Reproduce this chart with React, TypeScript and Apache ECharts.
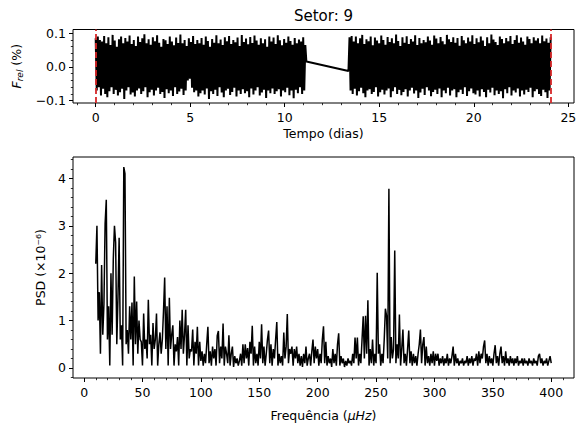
import React, { useEffect, useRef } from "react";
import * as echarts from "echarts";

// ---------- data ----------
const sectorTitle = "Setor: 9";
const cadenceDays = 0.056;
const segment1Start = 0;
const segment2Start = 13.37;

const fluxSegment1 = [
  0.085, -0.07, 0.09, -0.06, 0.08, -0.085, 0.075, -0.065, 0.092, -0.08,
  0.07, -0.09, 0.088, -0.072, 0.065, -0.06, 0.095, -0.08, 0.078, -0.068,
  0.06, -0.085, 0.082, -0.075, 0.09, -0.065, 0.07, -0.095, 0.086, -0.07,
  0.075, -0.06, 0.093, -0.082, 0.068, -0.076, 0.08, -0.088, 0.062, -0.07,
  0.09, -0.064, 0.074, -0.08, 0.085, -0.072, 0.097, -0.06, 0.07, -0.09,
  0.082, -0.075, 0.066, -0.068, 0.088, -0.085, 0.076, -0.07, 0.094, -0.062,
  0.072, -0.08, 0.06, -0.074, 0.083, -0.092, 0.079, -0.066, 0.068, -0.078,
  0.09, -0.07, 0.075, -0.086, 0.064, -0.06, 0.087, -0.08, 0.071, -0.073,
  0.096, -0.065, 0.07, -0.083, 0.08, -0.07, 0.062, -0.04, 0.085, -0.035,
  0.074, -0.062, 0.092, -0.075, 0.068, -0.07, 0.08, -0.088, 0.07, -0.078,
  0.086, -0.07, 0.066, -0.082, 0.09, -0.064, 0.077, -0.095, 0.06, -0.072,
  0.083, -0.08, 0.072, -0.068, 0.094, -0.086, 0.07, -0.06, 0.081, -0.076,
  0.065, -0.09, 0.088, -0.07, 0.076, -0.065, 0.092, -0.083, 0.068, -0.074,
  0.08, -0.062, 0.073, -0.088, 0.087, -0.07, 0.062, -0.08, 0.095, -0.066,
  0.074, -0.078, 0.084, -0.072, 0.067, -0.09, 0.089, -0.064, 0.071, -0.082,
  0.093, -0.07, 0.078, -0.06, 0.066, -0.085, 0.085, -0.076, 0.07, -0.068,
  0.082, -0.092, 0.06, -0.07, 0.09, -0.078, 0.075, -0.064, 0.087, -0.08,
  0.068, -0.072, 0.094, -0.066, 0.079, -0.088, 0.064, -0.07, 0.083, -0.075,
  0.072, -0.062, 0.09, -0.084, 0.077, -0.07, 0.066, -0.093, 0.086, -0.068,
  0.07, -0.078, 0.081, -0.06, 0.075, -0.08, 0.088, -0.07, 0.065, 0.016,
];

const fluxSegment2 = [
  -0.012, 0.088, -0.07, 0.092, -0.08, 0.075, -0.065, 0.09, -0.085, 0.07,
  -0.072, 0.085, -0.062, 0.095, -0.078, 0.068, -0.09, 0.082, -0.07, 0.076,
  -0.066, 0.09, -0.08, 0.064, -0.074, 0.087, -0.06, 0.078, -0.088, 0.07,
  -0.075, 0.093, -0.068, 0.08, -0.082, 0.066, -0.07, 0.089, -0.064, 0.074,
  -0.09, 0.085, -0.072, 0.07, -0.06, 0.096, -0.08, 0.077, -0.068, 0.062,
  -0.084, 0.088, -0.074, 0.072, -0.066, 0.091, -0.088, 0.068, -0.07, 0.083,
  -0.062, 0.075, -0.079, 0.094, -0.07, 0.065, -0.092, 0.086, -0.076, 0.07,
  -0.065, 0.08, -0.083, 0.073, -0.06, 0.09, -0.07, 0.078, -0.087, 0.066,
  -0.074, 0.093, -0.068, 0.084, -0.08, 0.07, -0.064, 0.089, -0.09, 0.076,
  -0.07, 0.067, -0.078, 0.095, -0.062, 0.082, -0.085, 0.074, -0.07, 0.088,
  -0.066, 0.072, -0.09, 0.086, -0.075, 0.063, -0.068, 0.092, -0.08, 0.079,
  -0.06, 0.07, -0.086, 0.087, -0.072, 0.075, -0.064, 0.094, -0.078, 0.068,
  -0.082, 0.085, -0.07, 0.073, -0.088, 0.09, -0.066, 0.078, -0.074, 0.062,
  -0.09, 0.088, -0.068, 0.07, -0.076, 0.096, -0.062, 0.081, -0.084, 0.074,
  -0.07, 0.065, -0.08, 0.09, -0.072, 0.083, -0.093, 0.07, -0.066, 0.086,
  -0.078, 0.076, -0.06, 0.092, -0.085, 0.068, -0.07, 0.08, -0.076, 0.094,
  -0.064, 0.072, -0.088, 0.087, -0.07, 0.075, -0.082, 0.066, -0.068, 0.09,
  -0.074, 0.083, -0.062, 0.07, -0.09, 0.088, -0.072, 0.078, -0.066, 0.085,
  -0.08, 0.07, -0.086, 0.093, -0.068, 0.076, -0.075, 0.084, -0.092, 0.072,
  -0.07, 0.088,
];

const freqStart = 10; // µHz
const freqStep = 1; // µHz
const psdValues = [
  2.2, 3.0, 1.0, 1.6, 0.3, 2.17, 0.7, 1.35, 3.05, 3.55,
  0.6, 1.3, 0.05, 2.0, 0.7, 2.3, 3.0, 2.65, 0.5, 1.5,
  2.75, 0.6, 0.9, 0.05, 4.24, 4.1, 0.5, 0.8, 0.3, 1.3,
  0.6, 1.38, 0.05, 1.93, 0.5, 1.4, 0.3, 1.0, 0.6, 0.55,
  0.05, 1.15, 0.4, 0.6, 0.2, 1.44, 0.5, 0.7, 0.05, 0.95,
  0.4, 0.6, 1.15, 0.05, 0.5, 0.75, 0.3, 0.6, 1.2, 1.91,
  0.4, 1.3, 0.05, 1.48, 0.4, 0.7, 0.9, 0.05, 0.5, 0.35,
  0.65, 0.05, 1.0, 0.4, 1.23, 0.3, 0.7, 1.23, 0.05, 0.9,
  0.2, 0.4, 0.35, 0.81, 0.05, 0.55, 0.3, 0.87, 0.05, 0.55,
  0.15, 0.35, 0.05, 0.3, 0.1, 0.5, 0.87, 0.1, 0.35, 0.05,
  0.45, 0.2, 0.4, 0.05, 0.68, 0.78, 0.1, 0.45, 0.2, 0.94,
  0.05, 0.45, 0.3, 0.1, 0.69, 0.05, 0.3, 0.45, 0.02, 0.25,
  0.1, 0.2, 0.05, 0.15, 0.3, 0.05, 0.5, 0.1, 0.5, 0.2,
  0.42, 0.05, 0.55, 0.3, 0.89, 0.05, 0.45, 0.1, 0.3, 0.05,
  0.55, 0.2, 0.92, 0.1, 0.45, 0.05, 0.3, 0.6, 0.79, 0.1,
  0.5, 0.05, 0.4, 0.2, 0.6, 0.97, 0.05, 0.3, 0.1, 0.25,
  0.05, 0.75, 0.2, 0.45, 1.14, 0.1, 0.4, 0.3, 0.45, 0.05,
  0.4, 0.2, 0.45, 0.1, 0.3, 0.05, 0.25, 0.02, 0.3, 0.1,
  0.45, 0.05, 0.2, 0.3, 0.05, 0.35, 0.6, 0.1, 0.45, 0.2,
  0.4, 0.05, 0.3, 0.1, 0.6, 0.88, 0.1, 0.55, 0.05, 0.25,
  0.1, 0.2, 0.02, 0.4, 0.1, 0.3, 0.05, 0.5, 0.73, 0.05,
  0.25, 0.1, 0.2, 0.02, 0.15, 0.05, 0.2, 0.1, 0.15, 0.05,
  0.3, 0.1, 0.64, 0.2, 0.64, 0.05, 0.3, 0.1, 0.6, 1.09,
  0.2, 1.1, 0.3, 1.43, 0.05, 0.4, 0.1, 0.6, 0.05, 0.3,
  0.1, 2.01, 0.3, 0.5, 0.05, 0.3, 0.1, 0.6, 1.25, 1.1,
  0.2, 3.78, 0.1, 0.65, 0.2, 0.4, 2.48, 0.1, 0.5, 0.2,
  1.13, 0.05, 0.4, 0.81, 0.1, 0.3, 0.05, 0.4, 0.79, 0.1,
  0.35, 0.05, 0.3, 0.1, 0.25, 0.05, 0.3, 0.5, 0.81, 0.1,
  0.5, 0.65, 0.05, 0.45, 0.1, 0.25, 0.05, 0.3, 0.1, 0.35,
  0.05, 0.3, 0.15, 0.3, 0.05, 0.2, 0.1, 0.25, 0.05, 0.2,
  0.1, 0.3, 0.05, 0.2, 0.1, 0.25, 0.45, 0.05, 0.3, 0.1,
  0.2, 0.05, 0.15, 0.1, 0.2, 0.05, 0.15, 0.1, 0.25, 0.05,
  0.2, 0.1, 0.25, 0.05, 0.2, 0.15, 0.3, 0.05, 0.35, 0.1,
  0.3, 0.2, 0.45, 0.58, 0.1, 0.3, 0.05, 0.25, 0.1, 0.2,
  0.05, 0.3, 0.48, 0.1, 0.25, 0.05, 0.3, 0.45, 0.1, 0.25,
  0.05, 0.35, 0.1, 0.2, 0.05, 0.25, 0.1, 0.2, 0.05, 0.2,
  0.1, 0.25, 0.05, 0.15, 0.1, 0.2, 0.05, 0.2, 0.1, 0.15,
  0.05, 0.2, 0.1, 0.15, 0.05, 0.2, 0.1, 0.15, 0.05, 0.25,
  0.3, 0.1, 0.2, 0.05, 0.15, 0.1, 0.2, 0.05, 0.15, 0.25,
  0.1,
];

const timeTicks = [0, 5, 10, 15, 20, 25];
const fluxTicks = [-0.1, 0, 0.1];
const freqTicks = [0, 50, 100, 150, 200, 250, 300, 350, 400];
const psdTicks = [0, 1, 2, 3, 4];

// ---------- helpers ----------
const FONT = "DejaVu Sans";

function minorTicks(min: number, max: number, step: number, majors: number[]) {
  const out: number[] = [];
  const start = Math.ceil(min / step - 1e-9);
  const end = Math.floor(max / step + 1e-9);
  for (let k = start; k <= end; k++) {
    const v = +(k * step).toFixed(6);
    if (!majors.some((m) => Math.abs(m - v) < step * 1e-3)) out.push(v);
  }
  return out;
}

const fmtMinus = (s: string) => s.replace("-", "\u2212");

export default function App() {
  const ref = useRef<HTMLDivElement>(null);

  useEffect(() => {
    if (!ref.current) return;
    const chart = echarts.init(ref.current, undefined, { renderer: "svg" });

    const lightCurve: [number, number][] = [
      ...fluxSegment1.map((f, i) => [segment1Start + i * cadenceDays, f] as [number, number]),
      ...fluxSegment2.map((f, i) => [segment2Start + i * cadenceDays, f] as [number, number]),
    ];
    const tFirst = lightCurve[0][0];
    const tLast = lightCurve[lightCurve.length - 1][0];
    const psd = psdValues.map((v, i) => [freqStart + i * freqStep, v]);

    const topX = { min: -1.2, max: 25.3 };
    const topY = { min: -0.107, max: 0.111 };
    const botX = { min: -9.5, max: 419.5 };
    const botY = { min: -0.212, max: 4.452 };

    const tickLabel = { color: "#000", fontFamily: FONT, fontSize: 12.5 };
    const nameStyle = { color: "#000", fontFamily: FONT, fontSize: 12.5 };
    const noLine = { show: false, onZero: false };

    const majorX = (gridIndex: number, rng: any, ticks: number[], name: string, gap: number, rich?: any) => ({
      type: "value",
      gridIndex,
      position: "bottom",
      offset: 0,
      ...rng,
      name,
      nameLocation: "middle",
      nameGap: gap,
      nameTextStyle: { ...nameStyle, rich },
      axisLine: noLine,
      splitLine: { show: false },
      axisTick: { show: true, inside: false, length: 4, customValues: ticks, lineStyle: { color: "#000", width: 1 } },
      axisLabel: { ...tickLabel, margin: 8, customValues: ticks, formatter: (v: number) => fmtMinus(String(v)) },
    });
    const minorAxis = (gridIndex: number, rng: any, ticks: number[], position: string) => ({
      type: "value",
      gridIndex,
      position,
      offset: 0,
      ...rng,
      axisLine: noLine,
      splitLine: { show: false },
      axisLabel: { show: false },
      axisTick: { show: true, inside: false, length: 2.2, customValues: ticks, lineStyle: { color: "#000", width: 0.8 } },
    });

    const option: any = {
      animation: false,
      backgroundColor: "#fff",
      textStyle: { fontFamily: FONT },
      graphic: [
        {
          type: "text",
          x: 323.5,
          y: 16,
          style: {
            text: sectorTitle,
            fontFamily: FONT,
            fontSize: 15,
            fill: "#000",
            align: "center",
            verticalAlign: "middle",
          },
        },
      ],
      grid: [
        { left: 73, right: 9, top: 29.5, height: 73.5, show: true, borderColor: "#000", borderWidth: 1, backgroundColor: "transparent", containLabel: false },
        { left: 73, right: 9, top: 157, height: 223.5, show: true, borderColor: "#000", borderWidth: 1, backgroundColor: "transparent", containLabel: false },
      ],
      xAxis: [
        majorX(0, topX, timeTicks, "Tempo (dias)", 24),
        minorAxis(0, topX, minorTicks(topX.min, topX.max, 1, timeTicks), "bottom"),
        majorX(1, botX, freqTicks, "Frequência ({i|μHz})", 31, {
          i: { fontStyle: "italic", fontFamily: FONT, fontSize: 12.5, color: "#000" },
        }),
        minorAxis(1, botX, minorTicks(botX.min, botX.max, 10, freqTicks), "bottom"),
      ],
      yAxis: [
        {
          type: "value",
          gridIndex: 0,
          position: "left",
          offset: 0,
          ...topY,
          name: "{i|F}{s|rel} {n|(%)}",
          nameLocation: "middle",
          nameGap: 45,
          nameRotate: 90,
          nameTextStyle: {
            ...nameStyle,
            rich: {
              i: { fontStyle: "italic", fontFamily: FONT, fontSize: 12.5, color: "#000", lineHeight: 16 },
              s: { fontStyle: "italic", fontFamily: FONT, fontSize: 9, color: "#000", lineHeight: 9, verticalAlign: "bottom" },
              n: { fontFamily: FONT, fontSize: 12.5, color: "#000", lineHeight: 16 },
            },
          },
          axisLine: noLine,
          splitLine: { show: false },
          axisTick: { show: true, inside: false, length: 4, customValues: fluxTicks, lineStyle: { color: "#000", width: 1 } },
          axisLabel: {
            ...tickLabel,
            margin: 7,
            customValues: fluxTicks,
            formatter: (v: number) => fmtMinus(v.toFixed(1)).replace("\u22120.0", "0.0"),
          },
        },
        minorAxis(0, topY, minorTicks(topY.min, topY.max, 0.02, fluxTicks), "left"),
        {
          type: "value",
          gridIndex: 1,
          position: "left",
          offset: 0,
          ...botY,
          name: "PSD (×10⁻⁶)",
          nameLocation: "middle",
          nameGap: 24,
          nameRotate: 90,
          nameTextStyle: nameStyle,
          axisLine: noLine,
          splitLine: { show: false },
          axisTick: { show: true, inside: false, length: 4, customValues: psdTicks, lineStyle: { color: "#000", width: 1 } },
          axisLabel: { ...tickLabel, margin: 7, customValues: psdTicks, formatter: (v: number) => String(v) },
        },
        minorAxis(1, botY, minorTicks(botY.min, botY.max, 0.2, psdTicks), "left"),
      ],
      series: [
        {
          type: "line",
          xAxisIndex: 0,
          yAxisIndex: 0,
          data: lightCurve,
          showSymbol: false,
          symbol: "none",
          lineStyle: { color: "#000", width: 2 },
          silent: true,
          markLine: {
            silent: true,
            symbol: ["none", "none"],
            label: { show: false },
            lineStyle: { color: "#d62728", type: [6, 3], width: 1.8 },
            data: [{ xAxis: tFirst }, { xAxis: tLast }],
          },
        },
        {
          type: "line",
          xAxisIndex: 2,
          yAxisIndex: 2,
          data: psd,
          showSymbol: false,
          symbol: "none",
          lineStyle: { color: "#000", width: 1.5 },
          silent: true,
        },
      ],
    };

    chart.setOption(option);
    return () => chart.dispose();
  }, []);

  return (
    <div
      ref={ref}
      style={{ position: "absolute", left: 0, top: 0, width: 583, height: 427, background: "#fff" }}
    />
  );
}
